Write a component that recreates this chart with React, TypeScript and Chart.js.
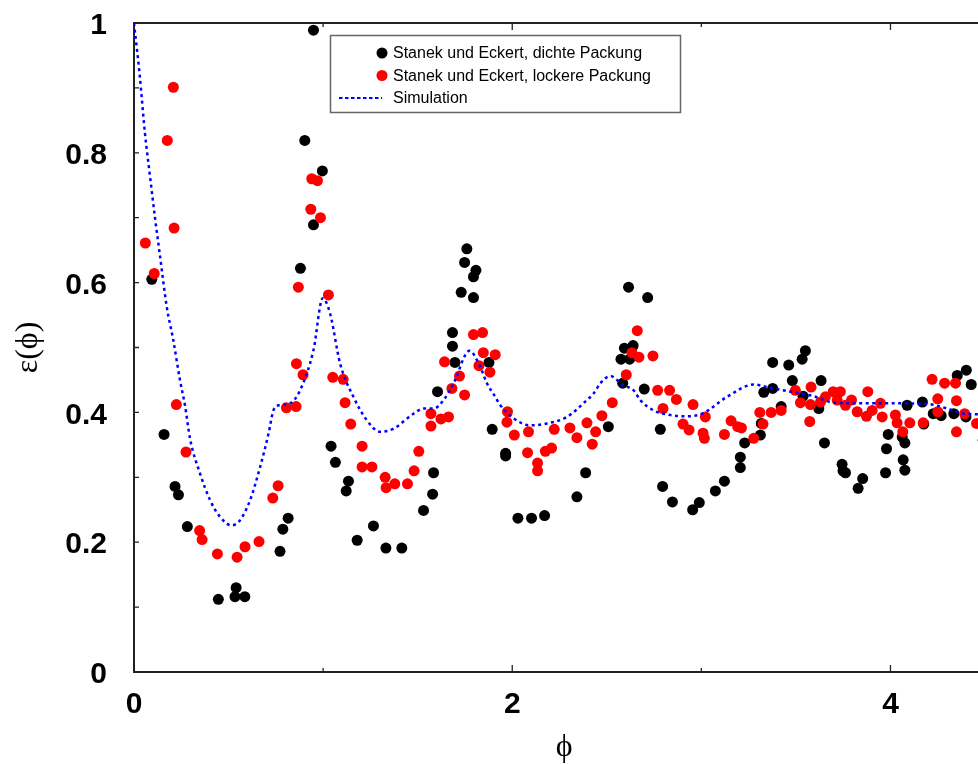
import React, { useEffect, useRef } from 'react';
import { Chart, registerables } from 'chart.js';

Chart.register(...registerables);

// --- data -------------------------------------------------------------
const dichteX = [0.094, 0.159, 0.217, 0.235, 0.282, 0.446, 0.534, 0.540, 0.586, 0.772, 0.787, 0.815, 0.880, 0.903, 0.949, 0.949, 0.996, 1.042, 1.065, 1.122, 1.134, 1.180, 1.266, 1.332, 1.416, 1.531, 1.579, 1.584, 1.605, 1.684, 1.684, 1.697, 1.730, 1.748, 1.760, 1.795, 1.795, 1.808, 1.877, 1.894, 1.965, 1.965, 2.030, 2.102, 2.171, 2.342, 2.388, 2.508, 2.575, 2.584, 2.593, 2.615, 2.621, 2.639, 2.698, 2.716, 2.783, 2.795, 2.847, 2.954, 2.989, 3.074, 3.122, 3.206, 3.206, 3.229, 3.312, 3.317, 3.330, 3.377, 3.377, 3.422, 3.462, 3.481, 3.533, 3.538, 3.550, 3.621, 3.633, 3.651, 3.744, 3.749, 3.762, 3.829, 3.853, 3.974, 3.979, 3.988, 4.062, 4.067, 4.076, 4.076, 4.088, 4.169, 4.176, 4.226, 4.268, 4.335, 4.353, 4.399, 4.401, 4.427, 4.490];
const dichteY = [0.605, 0.366, 0.286, 0.273, 0.224, 0.112, 0.116, 0.130, 0.116, 0.186, 0.220, 0.237, 0.622, 0.819, 0.989, 0.689, 0.772, 0.348, 0.323, 0.279, 0.294, 0.203, 0.225, 0.191, 0.191, 0.249, 0.274, 0.307, 0.432, 0.523, 0.502, 0.477, 0.585, 0.631, 0.652, 0.609, 0.577, 0.619, 0.477, 0.374, 0.337, 0.333, 0.237, 0.237, 0.241, 0.270, 0.307, 0.378, 0.482, 0.445, 0.499, 0.593, 0.482, 0.503, 0.436, 0.577, 0.374, 0.286, 0.262, 0.250, 0.261, 0.279, 0.294, 0.315, 0.331, 0.353, 0.365, 0.383, 0.431, 0.437, 0.477, 0.409, 0.473, 0.449, 0.482, 0.425, 0.495, 0.406, 0.449, 0.353, 0.320, 0.310, 0.307, 0.283, 0.298, 0.307, 0.344, 0.366, 0.362, 0.327, 0.353, 0.311, 0.411, 0.416, 0.382, 0.398, 0.395, 0.398, 0.457, 0.393, 0.465, 0.443, 0.357];

const lockereX = [0.060, 0.107, 0.176, 0.208, 0.212, 0.224, 0.275, 0.347, 0.360, 0.441, 0.545, 0.587, 0.661, 0.734, 0.762, 0.806, 0.857, 0.859, 0.869, 0.894, 0.935, 0.940, 0.970, 0.986, 1.028, 1.051, 1.106, 1.116, 1.146, 1.206, 1.206, 1.258, 1.328, 1.333, 1.379, 1.446, 1.481, 1.506, 1.570, 1.570, 1.623, 1.642, 1.663, 1.681, 1.721, 1.748, 1.795, 1.824, 1.843, 1.847, 1.882, 1.910, 1.972, 1.975, 2.011, 2.081, 2.086, 2.134, 2.134, 2.175, 2.208, 2.222, 2.305, 2.342, 2.395, 2.423, 2.441, 2.474, 2.529, 2.603, 2.633, 2.661, 2.670, 2.744, 2.769, 2.797, 2.832, 2.868, 2.903, 2.935, 2.956, 3.009, 3.016, 3.021, 3.122, 3.157, 3.192, 3.212, 3.277, 3.309, 3.326, 3.369, 3.422, 3.497, 3.524, 3.573, 3.577, 3.580, 3.630, 3.656, 3.697, 3.718, 3.735, 3.762, 3.794, 3.824, 3.873, 3.880, 3.903, 3.947, 3.956, 4.026, 4.035, 4.065, 4.102, 4.173, 4.220, 4.250, 4.250, 4.286, 4.344, 4.349, 4.349, 4.392, 4.455];
const lockereY = [0.661, 0.614, 0.819, 0.901, 0.684, 0.412, 0.339, 0.218, 0.204, 0.182, 0.177, 0.193, 0.201, 0.268, 0.287, 0.407, 0.409, 0.475, 0.593, 0.458, 0.713, 0.760, 0.757, 0.700, 0.581, 0.454, 0.451, 0.415, 0.382, 0.348, 0.316, 0.316, 0.300, 0.284, 0.290, 0.290, 0.310, 0.340, 0.379, 0.398, 0.390, 0.478, 0.393, 0.437, 0.456, 0.427, 0.520, 0.472, 0.523, 0.492, 0.462, 0.489, 0.385, 0.401, 0.365, 0.338, 0.370, 0.322, 0.310, 0.340, 0.345, 0.374, 0.376, 0.361, 0.384, 0.351, 0.370, 0.395, 0.415, 0.458, 0.492, 0.526, 0.485, 0.487, 0.434, 0.406, 0.434, 0.420, 0.382, 0.373, 0.412, 0.368, 0.360, 0.393, 0.366, 0.387, 0.378, 0.376, 0.360, 0.400, 0.382, 0.400, 0.403, 0.434, 0.415, 0.386, 0.412, 0.439, 0.416, 0.424, 0.432, 0.419, 0.432, 0.411, 0.419, 0.401, 0.394, 0.432, 0.403, 0.414, 0.393, 0.396, 0.384, 0.370, 0.384, 0.384, 0.451, 0.421, 0.401, 0.445, 0.445, 0.418, 0.370, 0.398, 0.383];

const simX = [0, 0.03, 0.058, 0.085, 0.111, 0.138, 0.173, 0.208, 0.243, 0.27, 0.296, 0.349, 0.402, 0.455, 0.517, 0.561, 0.614, 0.667, 0.711, 0.737, 0.764, 0.825, 0.878, 0.949, 0.998, 1.037, 1.09, 1.16, 1.231, 1.302, 1.372, 1.478, 1.531, 1.584, 1.637, 1.69, 1.774, 1.831, 1.866, 1.91, 1.937, 2.007, 2.095, 2.184, 2.289, 2.395, 2.43, 2.466, 2.519, 2.585, 2.642, 2.677, 2.748, 2.836, 2.924, 3.004, 3.136, 3.277, 3.347, 3.488, 3.594, 3.7, 3.841, 4.018, 4.194, 4.3, 4.37, 4.459, 4.55];
const simY = [1.0, 0.92, 0.83, 0.763, 0.70, 0.64, 0.563, 0.511, 0.45, 0.41, 0.36, 0.306, 0.265, 0.239, 0.226, 0.234, 0.265, 0.316, 0.367, 0.403, 0.411, 0.414, 0.434, 0.496, 0.576, 0.552, 0.475, 0.424, 0.388, 0.370, 0.375, 0.398, 0.406, 0.406, 0.419, 0.445, 0.495, 0.470, 0.445, 0.424, 0.411, 0.391, 0.380, 0.383, 0.393, 0.419, 0.429, 0.445, 0.456, 0.442, 0.434, 0.419, 0.403, 0.396, 0.394, 0.398, 0.424, 0.443, 0.439, 0.431, 0.425, 0.415, 0.414, 0.414, 0.413, 0.406, 0.399, 0.397, 0.395];

const xTicks = [0, 1, 2, 3, 4];
const xTickLabels = ['0', '', '2', '', '4'];
const yTicks = [0, 0.1, 0.2, 0.3, 0.4, 0.5, 0.6, 0.7, 0.8, 0.9, 1];
const yTickLabels = ['0', '', '0.2', '', '0.4', '', '0.6', '', '0.8', '', '1'];

const legendLabels = ['Stanek und Eckert, dichte Packung', 'Stanek und Eckert, lockere Packung', 'Simulation'];
const xTitle = '\u03D5';
const yTitle = '\u03B5(\u03D5)';

const zip = (xs: number[], ys: number[]) => xs.map((x, i) => ({ x, y: ys[i] }));

const framePlugin = {
  id: 'frameTicks',
  beforeDatasetsDraw(chart: any) {
    const { ctx, chartArea: a, scales } = chart;
    const sx = scales.x;
    const sy = scales.y;
    ctx.save();
    ctx.strokeStyle = '#222';
    ctx.lineWidth = 2;
    ctx.beginPath();
    ctx.moveTo(a.right + 10, a.top);
    ctx.lineTo(a.left, a.top);
    ctx.lineTo(a.left, a.bottom);
    ctx.lineTo(a.right + 10, a.bottom);
    ctx.stroke();
    ctx.lineWidth = 1.3;
    ctx.beginPath();
    yTicks.forEach((v) => {
      const p = sy.getPixelForValue(v);
      ctx.moveTo(a.left, p);
      ctx.lineTo(a.left + 5, p);
    });
    xTicks.forEach((v, i) => {
      const p = sx.getPixelForValue(v);
      const len = xTickLabels[i] ? 7 : 4;
      ctx.moveTo(p, a.bottom);
      ctx.lineTo(p, a.bottom - len);
      ctx.moveTo(p, a.top);
      ctx.lineTo(p, a.top + len);
    });
    ctx.stroke();
    ctx.restore();
  },
  afterDraw(chart: any) {
    const { ctx } = chart;
    ctx.save();
    ctx.fillStyle = '#fff';
    ctx.fillRect(330, 35, 351, 78);
    ctx.strokeStyle = '#666';
    ctx.lineWidth = 1.5;
    ctx.strokeRect(330.5, 35.5, 350, 77);
    const rows = [53, 75.5, 98];
    const colors = ['#000000', '#ff0000'];
    ctx.font = '16px "Liberation Sans", Arial, sans-serif';
    ctx.textBaseline = 'middle';
    ctx.textAlign = 'left';
    for (let i = 0; i < 2; i++) {
      ctx.fillStyle = colors[i];
      ctx.beginPath();
      ctx.arc(382, rows[i], 5.5, 0, Math.PI * 2);
      ctx.fill();
    }
    ctx.strokeStyle = '#0000ff';
    ctx.lineWidth = 2;
    ctx.setLineDash([3.5, 2.5]);
    ctx.beginPath();
    ctx.moveTo(339, rows[2]);
    ctx.lineTo(382, rows[2]);
    ctx.stroke();
    ctx.setLineDash([]);
    ctx.fillStyle = '#000';
    legendLabels.forEach((t, i) => ctx.fillText(t, 393, rows[i] + 1));
    ctx.restore();
  },
};

export default function App() {
  const ref = useRef<HTMLCanvasElement | null>(null);
  useEffect(() => {
    if (!ref.current) return;
    const tickFont = { family: '"Liberation Sans", Arial, sans-serif', size: 30, weight: 'bold' as const };
    const chart = new Chart(ref.current, {
      type: 'scatter',
      data: {
        datasets: [
          {
            label: legendLabels[2],
            data: zip(simX, simY),
            showLine: true,
            borderColor: '#0000ff',
            borderWidth: 2.5,
            borderDash: [3, 3.5],
            pointRadius: 0,
            pointHoverRadius: 0,
            cubicInterpolationMode: 'monotone',
            fill: false,
            order: 0,
          },
          {
            label: legendLabels[1],
            data: zip(lockereX, lockereY),
            backgroundColor: '#ff0000',
            borderWidth: 0,
            pointRadius: 5.5,
            pointHoverRadius: 5.5,
            order: 1,
          },
          {
            label: legendLabels[0],
            data: zip(dichteX, dichteY),
            backgroundColor: '#000000',
            borderWidth: 0,
            pointRadius: 5.5,
            pointHoverRadius: 5.5,
            order: 2,
          },
        ],
      } as any,
      options: {
        animation: false,
        responsive: false,
        devicePixelRatio: 1,
        layout: { padding: { top: 23, left: 0, right: 0, bottom: 0 } },
        plugins: { legend: { display: false }, tooltip: { enabled: false } },
        scales: {
          x: {
            type: 'linear',
            min: 0,
            max: 4.55,
            afterBuildTicks: (s: any) => {
              s.ticks = xTicks.map((v) => ({ value: v }));
            },
            afterFit: (s: any) => {
              s.height = 92;
            },
            ticks: {
              callback: (_v: any, i: number) => xTickLabels[i],
              font: tickFont,
              color: '#000',
              padding: 15,
              maxRotation: 0,
              autoSkip: false,
            },
            grid: { display: false, drawTicks: false },
            border: { display: false },
            title: {
              display: true,
              text: xTitle,
              color: '#000',
              font: { family: '"Liberation Serif", "DejaVu Serif", serif', size: 32, lineHeight: 1 },
              padding: 0,
            },
          },
          y: {
            type: 'linear',
            min: 0,
            max: 1,
            afterBuildTicks: (s: any) => {
              s.ticks = yTicks.map((v) => ({ value: v }));
            },
            afterFit: (s: any) => {
              s.width = 134;
              s.paddingTop = 0;
              s.paddingBottom = 0;
            },
            ticks: {
              callback: (_v: any, i: number) => yTickLabels[i],
              font: tickFont,
              color: '#000',
              padding: 27,
              labelOffset: 3,
              autoSkip: false,
            },
            grid: { display: false, drawTicks: false },
            border: { display: false },
            title: {
              display: true,
              text: yTitle,
              color: '#000',
              font: { family: '"Liberation Serif", "DejaVu Serif", serif', size: 32, lineHeight: 1 },
              padding: { top: 13, bottom: 0 },
            },
          },
        },
      } as any,
      plugins: [framePlugin],
    });
    return () => chart.destroy();
  }, []);
  return (
    <div style={{ position: 'fixed', left: 0, top: 0, width: 978, height: 764, overflow: 'hidden', background: '#fff' }}>
      <canvas ref={ref} width={1000} height={764} style={{ display: 'block', width: 1000, height: 764 }} />
    </div>
  );
}
